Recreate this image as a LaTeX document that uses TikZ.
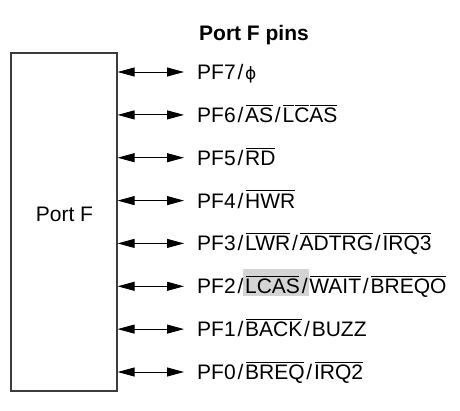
\documentclass[tikz,border=0pt]{standalone}
\usepackage{fontspec}
\setmainfont{Liberation Sans}
\newfontfamily\symfont{DejaVu Sans}
\usetikzlibrary{arrows.meta,calc}
\definecolor{hlgray}{RGB}{212,212,212}
\definecolor{boxline}{RGB}{60,60,60}
\newcommand\ovl[1]{{\setbox0\hbox{#1}\rlap{\kern0.6pt\raisebox{\dimexpr\ht0+2.3pt\relax}{\rule{\dimexpr\wd0-1.2pt\relax}{0.9pt}}}\box0}}
\newcommand\sls{\kern1.8pt/\kern1.8pt}
\newcommand\hlbox[1]{{\setlength\fboxsep{0pt}\colorbox{hlgray}{\rule[-2.4pt]{0pt}{27pt}#1}}}
\tikzset{
  portbox/.style={draw=boxline, line width=1.2pt, minimum width=106pt, minimum height=338pt, inner sep=0pt},
  txt/.style={inner sep=0pt, font=\fontsize{21}{25}\selectfont},
  ttl/.style={inner sep=0pt, font=\fontsize{21}{25}\selectfont\bfseries},
  lbl/.style={txt, anchor=base west},
  dbl/.style={line width=0.9pt, {Triangle[length=17pt,width=9pt]}-{Triangle[length=17pt,width=9pt]}}
}
\begin{document}
\begin{tikzpicture}[x=1pt,y=-1pt]
\useasboundingbox (0,0) rectangle (460,410);
\node[ttl, anchor=base] (title) at (254,40) {Port F pins};
\node[portbox] (port) at (64,222) {};
\node[txt] (portname) at (64.5,214) {Port F};
\coordinate (a7) at (184,72);
\coordinate (a6) at (184,114.9);
\coordinate (a5) at (184,157.7);
\coordinate (a4) at (184,200.6);
\coordinate (a3) at (184,243.4);
\coordinate (a2) at (184,286.3);
\coordinate (a1) at (184,329.1);
\coordinate (a0) at (184,372);
\node[lbl] (l7) at ($(a7)+(13,7.5)$) {PF7\sls{\symfont\fontsize{17}{20}\selectfont ϕ}};
\node[lbl] (l6) at ($(a6)+(13,7.5)$) {PF6\sls\ovl{AS}\sls\ovl{L}\ovl{C}\ovl{AS}};
\node[lbl] (l5) at ($(a5)+(13,7.5)$) {PF5\sls\ovl{RD}};
\node[lbl] (l4) at ($(a4)+(13,7.5)$) {PF4\sls\ovl{HWR}};
\node[lbl] (l3) at ($(a3)+(13,7.5)$) {PF3\sls\ovl{LWR}\sls\ovl{ADTRG}\sls\ovl{IRQ3}};
\node[lbl] (l2) at ($(a2)+(13,7.5)$) {PF2\kern1.8pt/\hlbox{\kern1.8pt\ovl{LCAS}\kern1.8pt/\kern1.8pt}\ovl{WAIT}\sls\ovl{BREQO}};
\node[lbl] (l1) at ($(a1)+(13,7.5)$) {PF1\sls\ovl{BACK}\sls BUZZ};
\node[lbl] (l0) at ($(a0)+(13,7.5)$) {PF0\sls\ovl{BREQ}\sls\ovl{IRQ2}};
\foreach \i in {7,6,5,4,3,2,1,0}{
  \draw[dbl] (port.east |- a\i) -- (a\i);
}
\end{tikzpicture}
\end{document}
